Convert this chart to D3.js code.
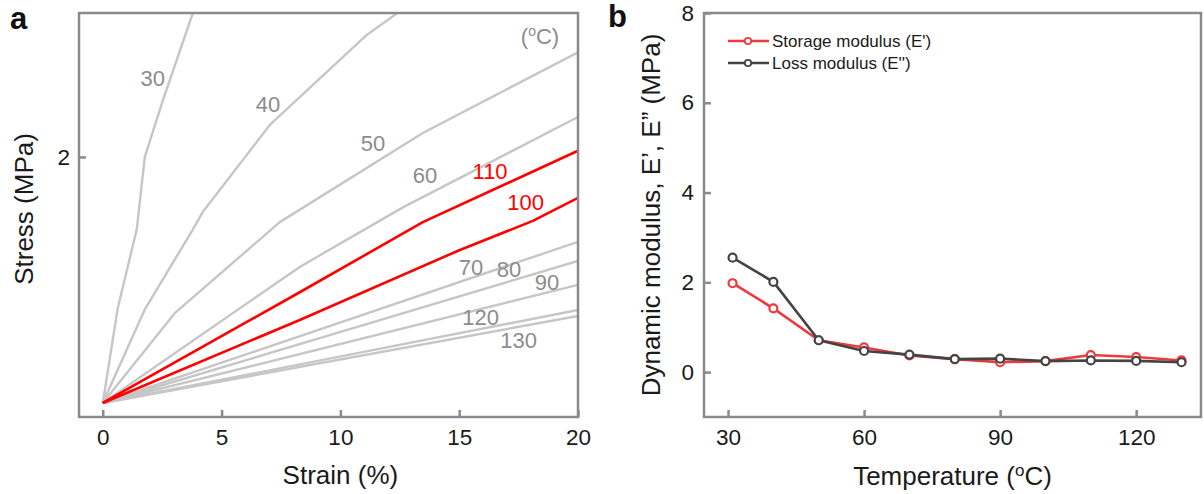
<!DOCTYPE html>
<html>
<head>
<meta charset="utf-8">
<script src="https://cdn.jsdelivr.net/npm/d3@7"></script>
<style>
  body { margin: 0; background: #fff; }
  svg { font-family: "Liberation Sans", Arial, sans-serif; }
</style>
</head>
<body>
<svg width="1204" height="494"></svg>
<script>
// ---- panel a data: stress-strain curves at each temperature (strain %, stress MPa)
var curveTemps = ["30", "40", "50", "60", "70", "80", "90", "120", "130", "100", "110"];
var curve30  = [[0,0],[0.63,0.77],[1.43,1.41],[1.77,2.0],[2.53,2.46],[3.79,3.17]];
var curve40  = [[0,0],[1.77,0.76],[3.79,1.41],[4.2,1.55],[7.03,2.26],[11.1,2.99],[12.4,3.17]];
var curve50  = [[0,0],[3.03,0.73],[7.45,1.47],[13.47,2.195],[20,2.85]];
var curve60  = [[0,0],[8.29,1.106],[12.63,1.59],[20,2.325]];
var curve70  = [[0,0],[20,1.31]];
var curve80  = [[0,0],[20,1.155]];
var curve90  = [[0,0],[20,0.96]];
var curve120 = [[0,0],[20,0.756]];
var curve130 = [[0,0],[20,0.707]];
var curve100 = [[0,0],[8.29,0.675],[15.03,1.244],[18.1,1.48],[20,1.667]];
var curve110 = [[0,0],[8.29,0.90],[13.47,1.47],[20,2.05]];
var curveData = [curve30, curve40, curve50, curve60, curve70, curve80, curve90, curve120, curve130, curve100, curve110];
var redTemps = ["100", "110"];
// label anchor points (strain, stress)
var labelPos = {"30":[2.1,2.64],"40":[6.95,2.43],"50":[11.37,2.11],"60":[13.56,1.85],"110":[16.3,1.88],
  "100":[17.8,1.63],"70":[15.5,1.106],"80":[17.1,1.09],"90":[18.7,0.98],"120":[15.9,0.70],"130":[17.5,0.51]};
var strainTicks = [0, 5, 10, 15, 20];
var stressTicks = [2];

// ---- panel b data: dynamic moduli vs temperature
var temps    = [31, 40, 50, 60, 70, 80, 90, 100, 110, 120, 130];
var storageE = [1.98, 1.42, 0.71, 0.55, 0.37, 0.29, 0.22, 0.245, 0.38, 0.335, 0.26];
var lossE    = [2.55, 2.01, 0.71, 0.47, 0.39, 0.29, 0.30, 0.245, 0.26, 0.25, 0.22];
var tempTicks = [30, 60, 90, 120];
var modTicks = [0, 2, 4, 6, 8];

var svg = d3.select("svg");
var frameColor = "#8a8a8a", gray = "#c6c6c6", labelGray = "#8c8c8c", txt = "#1a1a1a";
var tickFont = 22.5, titleFont = 26;

function frame(g, w, h) {
  g.append("rect").attr("width", w).attr("height", h)
    .attr("fill", "none").attr("stroke", frameColor).attr("stroke-width", 2.5);
}

function styleAxis(a) {
  a.select(".domain").remove();
  a.selectAll(".tick line").attr("stroke", frameColor).attr("stroke-width", 2.5);
  a.selectAll(".tick text").attr("font-size", tickFont).attr("fill", txt)
    .attr("font-family", "Liberation Sans, Arial, sans-serif");
}

// superscript degree "o" then "C)"
function degC(t, size, supSize) {
  t.append("tspan").attr("font-size", supSize).attr("dy", -size * 0.36).text("o");
  t.append("tspan").attr("dy", size * 0.36).text("C)");
}

// ================= panel a =================
var ax = {left: 79, top: 13, right: 578, bottom: 417};
var x = d3.scaleLinear().domain([-1, 20]).range([ax.left, ax.right]);
var y = d3.scaleLinear().domain([-0.114, 3.17]).range([ax.bottom, ax.top]);

svg.append("clipPath").attr("id", "clipA").append("rect")
  .attr("x", ax.left).attr("y", ax.top).attr("width", ax.right - ax.left).attr("height", ax.bottom - ax.top);

var line = d3.line().x(function(d) { return x(d[0]); }).y(function(d) { return y(d[1]); });

var ga = svg.append("g").attr("clip-path", "url(#clipA)");
ga.selectAll("path.curve")
  .data(curveData)
  .enter().append("path")
  .attr("class", "curve")
  .attr("d", line)
  .attr("fill", "none")
  .attr("stroke-linejoin", "round")
  .attr("stroke", function(d, i) { return redTemps.indexOf(curveTemps[i]) >= 0 ? "#ff0000" : gray; })
  .attr("stroke-width", function(d, i) { return redTemps.indexOf(curveTemps[i]) >= 0 ? 2.6 : 2.4; });

svg.selectAll("text.clabel")
  .data(curveTemps)
  .enter().append("text")
  .attr("class", "clabel")
  .attr("x", function(d) { return x(labelPos[d][0]); })
  .attr("y", function(d) { return y(labelPos[d][1]); })
  .attr("dy", "0.35em")
  .attr("text-anchor", "middle")
  .attr("font-size", 22)
  .attr("fill", function(d) { return redTemps.indexOf(d) >= 0 ? "#ff0000" : labelGray; })
  .text(function(d) { return d; });

var unitA = svg.append("text").attr("x", x(18.4)).attr("y", y(2.98)).attr("dy", 8)
  .attr("text-anchor", "middle").attr("font-size", 22).attr("fill", labelGray);
unitA.append("tspan").text("(");
degC(unitA, 22, 14);

var fa = svg.append("g").attr("transform", "translate(" + ax.left + "," + ax.top + ")");
frame(fa, ax.right - ax.left, ax.bottom - ax.top);

var xAxisA = svg.append("g").attr("transform", "translate(0," + ax.bottom + ")")
  .call(d3.axisBottom(x).tickValues(strainTicks).tickFormat(d3.format("d"))
    .tickSizeInner(-7).tickSizeOuter(0).tickPadding(12));
var yAxisA = svg.append("g").attr("transform", "translate(" + ax.left + ",0)")
  .call(d3.axisLeft(y).tickValues(stressTicks).tickFormat(d3.format("d"))
    .tickSizeInner(-7).tickSizeOuter(0).tickPadding(9));
styleAxis(xAxisA);
styleAxis(yAxisA);

svg.append("text").attr("x", x(10)).attr("y", 484).attr("text-anchor", "middle")
  .attr("font-size", titleFont).attr("fill", txt).text("Strain (%)");
svg.append("text").attr("transform", "translate(33,209) rotate(-90)")
  .attr("text-anchor", "middle").attr("font-size", titleFont).attr("fill", txt).text("Stress (MPa)");
svg.append("text").attr("x", 10).attr("y", 29).attr("font-size", 31).attr("font-weight", "bold")
  .attr("fill", "#111").text("a");

// ================= panel b =================
var bx = {left: 704, top: 13, right: 1201, bottom: 417};
var xb = d3.scaleLinear().domain([24.7, 134.3]).range([bx.left, bx.right]);
var yb = d3.scaleLinear().domain([-1, 8]).range([bx.bottom, bx.top]);

var series = [
  {name: "Storage modulus (E')", values: storageE, color: "#ee3a3f"},
  {name: "Loss modulus (E'')", values: lossE, color: "#444444"}
];

var lineB = d3.line().x(function(d, i) { return xb(temps[i]); }).y(function(d) { return yb(d); });

var gs = svg.selectAll("g.series").data(series).enter().append("g").attr("class", "series");
gs.append("path")
  .attr("d", function(s) { return lineB(s.values); })
  .attr("fill", "none").attr("stroke", function(s) { return s.color; })
  .attr("stroke-width", 2.6).attr("stroke-linejoin", "round");
gs.selectAll("circle")
  .data(function(s) { return s.values.map(function(v, i) { return {t: temps[i], v: v, c: s.color}; }); })
  .enter().append("circle")
  .attr("cx", function(d) { return xb(d.t); })
  .attr("cy", function(d) { return yb(d.v); })
  .attr("r", 4)
  .attr("fill", "#fff").attr("stroke", function(d) { return d.c; }).attr("stroke-width", 2.2);

var fb = svg.append("g").attr("transform", "translate(" + bx.left + "," + bx.top + ")");
frame(fb, bx.right - bx.left, bx.bottom - bx.top);

var xAxisB = svg.append("g").attr("transform", "translate(0," + bx.bottom + ")")
  .call(d3.axisBottom(xb).tickValues(tempTicks).tickSizeInner(-7).tickSizeOuter(0).tickPadding(12));
var yAxisB = svg.append("g").attr("transform", "translate(" + bx.left + ",0)")
  .call(d3.axisLeft(yb).tickValues(modTicks).tickSizeInner(-7).tickSizeOuter(0).tickPadding(10));
styleAxis(xAxisB);
styleAxis(yAxisB);

// legend
var leg = svg.selectAll("g.leg").data(series).enter().append("g").attr("class", "leg")
  .attr("transform", function(d, i) { return "translate(728," + (41 + i * 22) + ")"; });
leg.append("line").attr("x1", 0).attr("x2", 41).attr("stroke", function(d) { return d.color; }).attr("stroke-width", 2.6);
leg.append("circle").attr("cx", 20).attr("r", 3.2).attr("fill", "#fff")
  .attr("stroke", function(d) { return d.color; }).attr("stroke-width", 1.8);
leg.append("text").attr("x", 44).attr("dy", "0.35em").attr("font-size", 17).attr("fill", txt)
  .text(function(d) { return d.name; });

var tl = svg.append("text").attr("x", (bx.left + bx.right) / 2).attr("y", 485).attr("text-anchor", "middle")
  .attr("font-size", titleFont).attr("fill", txt);
tl.append("tspan").text("Temperature (");
degC(tl, titleFont, 17);

svg.append("text").attr("transform", "translate(660,215) rotate(-90)")
  .attr("text-anchor", "middle").attr("font-size", titleFont).attr("fill", txt)
  .text("Dynamic modulus, E\u2019, E\u201D (MPa)");
svg.append("text").attr("x", 608).attr("y", 27).attr("font-size", 31).attr("font-weight", "bold")
  .attr("fill", "#111").text("b");
</script>
</body>
</html>
